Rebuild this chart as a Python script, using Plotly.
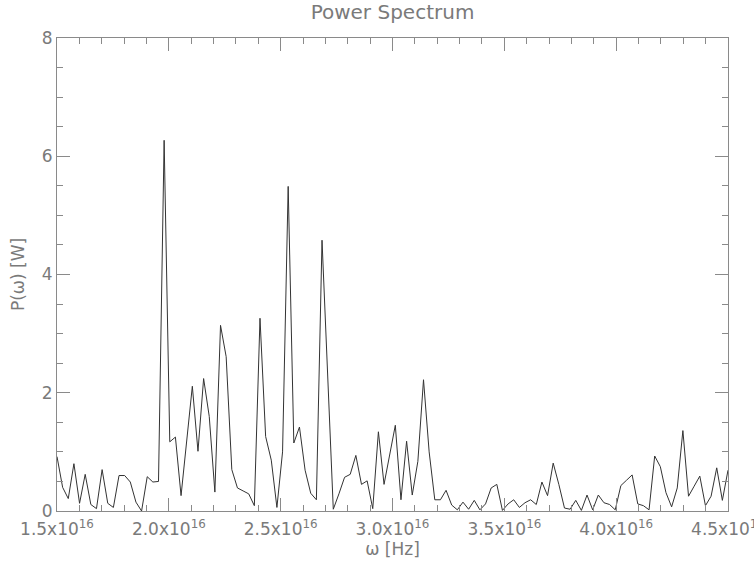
import numpy as np
import plotly.graph_objects as go

# ---- data -------------------------------------------------------------
omega_start = 1.5e16
omega_stop = 4.5e16
power = [
    0.92, 0.40, 0.21, 0.80, 0.13, 0.62, 0.11, 0.04, 0.70, 0.13,
    0.06, 0.60, 0.60, 0.49, 0.15, 0.00, 0.58, 0.49, 0.50, 6.27,
    1.17, 1.25, 0.26, 1.15, 2.11, 1.01, 2.24, 1.60, 0.32, 3.14,
    2.61, 0.70, 0.39, 0.34, 0.29, 0.09, 3.26, 1.26, 0.86, 0.06,
    1.00, 5.49, 1.15, 1.42, 0.69, 0.30, 0.19, 4.58, 2.30, 0.03,
    0.29, 0.57, 0.62, 0.94, 0.45, 0.51, 0.04, 1.34, 0.45, 0.95,
    1.45, 0.19, 1.18, 0.27, 0.84, 2.22, 1.00, 0.19, 0.19, 0.35,
    0.10, 0.02, 0.15, 0.03, 0.18, 0.02, 0.12, 0.39, 0.45, 0.01,
    0.12, 0.19, 0.06, 0.14, 0.19, 0.11, 0.49, 0.26, 0.81, 0.45,
    0.05, 0.03, 0.18, 0.01, 0.27, 0.02, 0.27, 0.14, 0.11, 0.02,
    0.43, 0.52, 0.61, 0.12, 0.09, 0.02, 0.93, 0.75, 0.31, 0.07,
    0.39, 1.36, 0.25, 0.42, 0.59, 0.09, 0.25, 0.73, 0.18, 0.69,
]
omega = np.linspace(omega_start, omega_stop, len(power))

x_tick_vals = [1.5e16, 2.0e16, 2.5e16, 3.0e16, 3.5e16, 4.0e16, 4.5e16]
x_tick_text = ["1.5x10<sup>16</sup>", "2.0x10<sup>16</sup>", "2.5x10<sup>16</sup>",
               "3.0x10<sup>16</sup>", "3.5x10<sup>16</sup>", "4.0x10<sup>16</sup>",
               "4.5x10<sup>16</sup>"]
y_tick_vals = [0, 2, 4, 6, 8]

# ---- style ------------------------------------------------------------
TXT = "#7a7a7a"
AX = "#8a8a8a"
FONT = "DejaVu Sans"

fig = go.Figure()
fig.add_trace(go.Scatter(
    x=omega, y=power, mode="lines",
    line=dict(color="#333333", width=1),
    hoverinfo="skip", showlegend=False,
))

common = dict(
    showline=True, linecolor=AX, linewidth=1, mirror="allticks",
    ticks="inside", ticklen=13, tickwidth=1, tickcolor=AX,
    showgrid=False, zeroline=False,
    tickfont=dict(family=FONT, size=17, color=TXT),
)

fig.update_xaxes(
    range=[omega_start, omega_stop],
    tickvals=x_tick_vals, ticktext=x_tick_text,
    ticklabeloverflow="allow",
    ticklabelstandoff=3,
    minor=dict(ticks="inside", ticklen=6, tickcolor=AX, dtick=1e15, showgrid=False),
    title=dict(text="ω [Hz]", font=dict(family=FONT, size=17, color=TXT), standoff=2),
    **common,
)
fig.update_yaxes(
    range=[0, 8],
    tickvals=y_tick_vals,
    minor=dict(ticks="inside", ticklen=6, tickcolor=AX, dtick=0.5, showgrid=False),
    title=dict(text="P(ω) [W]", font=dict(family=FONT, size=17, color=TXT), standoff=12),
    **common,
)

fig.update_layout(
    width=754, height=563,
    margin=dict(l=57, r=26, t=38, b=52, autoexpand=False),
    paper_bgcolor="white", plot_bgcolor="white",
    title=dict(text="Power Spectrum", x=0.5, xref="paper",
               y=1 - 12 / 563, yref="container", yanchor="middle",
               font=dict(family=FONT, size=20, color=TXT)),
)

fig.write_html("out.html")
